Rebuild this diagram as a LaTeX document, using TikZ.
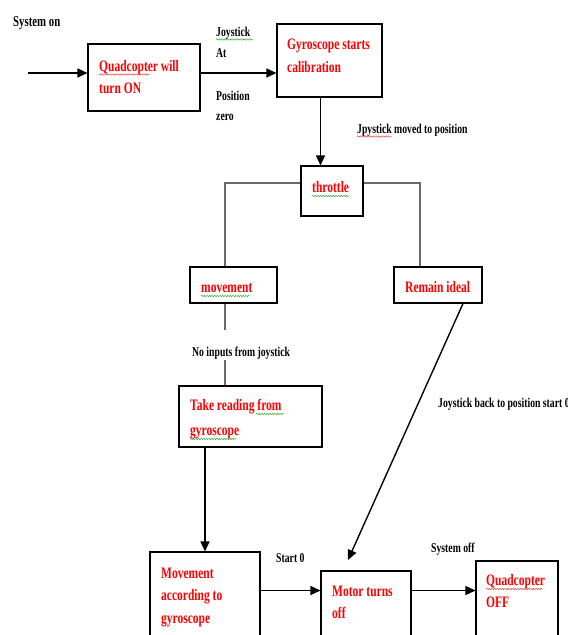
\documentclass[tikz,border=0pt]{standalone}
\usepackage{fontspec}
\setmainfont{Liberation Serif}[FakeStretch=0.72]
\usetikzlibrary{arrows.meta,calc,decorations.pathmorphing}
\definecolor{lred}{RGB}{255,0,0}
\definecolor{lgray}{RGB}{105,105,105}
\definecolor{sqgreen}{RGB}{40,170,40}
\definecolor{sqred}{RGB}{235,60,60}
\tikzset{
  box/.style={draw=black, line width=1.1pt, rectangle, inner sep=0pt},
  rtxt/.style={text=lred, font=\bfseries\fontsize{16}{22.5}\selectfont, align=left, inner sep=0pt, anchor=base west},
  btxt/.style={text=black, font=\bfseries\fontsize{13.5}{20.5}\selectfont, align=left, inner sep=0pt, anchor=base west},
  arr/.style={draw=black, line width=1.4pt, -{Triangle[length=10pt,width=9pt]}},
  gline/.style={draw=lgray, line width=1.4pt},
  squig/.style={draw=#1, line width=0.45pt, decorate, decoration={snake, amplitude=0.7pt, segment length=2.6pt}}
}
\begin{document}
\begin{tikzpicture}[x=1pt,y=-1pt]
\useasboundingbox (0,0) rectangle (568,635);

% boxes
\node[box, minimum width=112pt, minimum height=67pt] (q1) at (144,77.5) {};
\node[box, minimum width=105pt, minimum height=73pt] (g) at (329.5,60.5) {};
\node[box, minimum width=62pt, minimum height=50pt] (t) at (332,191) {};
\node[box, minimum width=87pt, minimum height=36pt] (mv) at (233.5,285) {};
\node[box, minimum width=88pt, minimum height=36pt] (ri) at (438,285) {};
\node[box, minimum width=143pt, minimum height=61pt] (tr) at (250.5,416.5) {};
\node[box, minimum width=110pt, minimum height=108pt] (ma) at (205,606) {};
\node[box, minimum width=90pt, minimum height=89pt] (mo) at (366,615.5) {};
\node[box, minimum width=82pt, minimum height=99pt] (qo) at (517,610.5) {};

% texts (multi-line nodes: base = baseline of the last line)
\node[btxt, font=\bfseries\fontsize{15}{20}\selectfont] (son) at (13,26.5) {System on};
\node[rtxt] (q1t) at (99,93.5) {Quadcopter will\\turn ON};
\node[btxt] (ja) at (216,57) {Joystick\\At};
\node[btxt, font=\bfseries\fontsize{13.5}{20}\selectfont] (pz) at (216,120) {Position\\zero};
\node[rtxt, font=\bfseries\fontsize{16}{23}\selectfont] (gt) at (287,72) {Gyroscope starts\\calibration};
\node[btxt] (jm) at (357,133) {Jpystick moved to position};
\node[rtxt] (tt) at (312,192) {throttle};
\node[rtxt] (mvt) at (201,292) {movement};
\node[rtxt] (rit) at (405,292) {Remain ideal};
\node[btxt] (ni) at (192,356) {No inputs from joystick};
\node[rtxt, font=\bfseries\fontsize{16}{25}\selectfont] (trt) at (190,435) {Take reading from\\gyroscope};
\node[btxt] (jb) at (438,407) {Joystick back to position start 0};
\node[rtxt] (mat) at (161,623) {Movement\\according to\\gyroscope};
\node[btxt] (s0) at (276,562) {Start 0};
\node[rtxt, font=\bfseries\fontsize{16}{22}\selectfont] (mot) at (332,618) {Motor turns\\off};
\node[btxt] (soff) at (431,552) {System off};
\node[rtxt, font=\bfseries\fontsize{16}{22}\selectfont] (qot) at (486,607) {Quadcopter\\OFF};

% helper coordinates
\coordinate (in) at (28,73);
\coordinate (gx) at (320.5,0);
\coordinate (ty) at (0,183);
\coordinate (lx) at (225,0);
\coordinate (rx) at (420,0);
\coordinate (ax) at (205,0);
\coordinate (ritip) at (348,560);
\coordinate (by) at (0,590.5);

% connectors
\draw[arr] (in) -- (in -| q1.west);
\draw[arr] (in -| q1.east) -- (in -| g.west);
\draw[arr] (gx |- g.south) -- (gx |- t.north);
\draw[gline] (ty -| t.west) -| (lx |- mv.north);
\draw[gline] (ty -| t.east) -| (rx |- ri.north);
\draw[gline, shorten >=16pt] (lx |- mv.south) -- (lx |- ni.north);
\draw[gline] ($(lx |- ni.south)+(0,1)$) -- (lx |- tr.north);
\draw[arr] (ax |- tr.south) -- (ax |- ma.north);
\draw[arr] ([xshift=25pt]ri.south) -- (ritip);
\draw[arr] (by -| ma.east) -- (by -| mo.west);
\draw[arr] (by -| mo.east) -- (by -| qo.west);

% spell-check squiggles
\draw[squig=sqred] (99,74.5) -- (150,74.5);
\draw[squig=sqgreen] (216,39.5) -- (253,39.5);
\draw[squig=sqred] (357,136.5) -- (392,136.5);
\draw[squig=sqgreen] (312,196) -- (349,196);
\draw[squig=sqgreen] (201,296) -- (250,296);
\draw[squig=sqgreen] (256,414) -- (284,414);
\draw[squig=sqgreen] (190,439) -- (237,439);
\draw[squig=sqred] (486,589) -- (543,589);
\end{tikzpicture}
\end{document}
